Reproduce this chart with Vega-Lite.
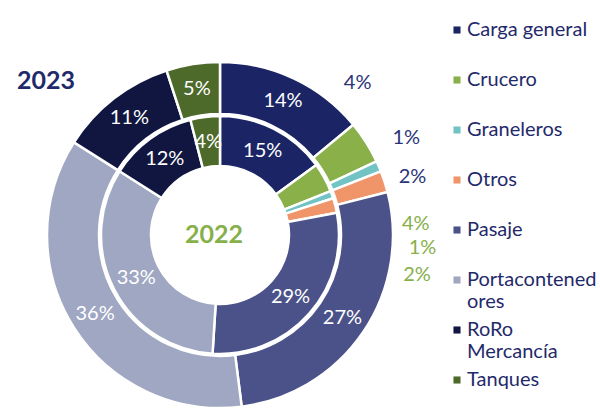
{
  "$schema": "https://vega.github.io/schema/vega-lite/v6.json",
  "width": 348,
  "height": 348,
  "autosize": {"type": "none"},
  "padding": {"left": 46, "top": 61, "right": 206, "bottom": 0},
  "background": "white",
  "config": {
    "view": {"stroke": null},
    "font": "Lato",
    "legend": {
      "orient": "none",
      "legendX": 401,
      "legendY": -41,
      "padding": 0,
      "gridAlign": "all",
      "symbolType": "square",
      "symbolSize": 50,
      "symbolStrokeWidth": 0,
      "labelFontSize": 20,
      "labelFont": "Lato",
      "labelColor": "#1f2a6b",
      "labelOffset": 0,
      "labelLimit": 200,
      "rowPadding": 8
    }
  },
  "data": {
    "values": [
      {"ring": "2023", "cat": "Carga general", "value": 0.14},
      {"ring": "2023", "cat": "Crucero", "value": 0.04},
      {"ring": "2023", "cat": "Graneleros", "value": 0.01},
      {"ring": "2023", "cat": "Otros", "value": 0.02},
      {"ring": "2023", "cat": "Pasaje", "value": 0.27},
      {"ring": "2023", "cat": "Portacontenedores", "value": 0.36},
      {"ring": "2023", "cat": "RoRo Mercancía", "value": 0.11},
      {"ring": "2023", "cat": "Tanques", "value": 0.05},
      {"ring": "2022", "cat": "Carga general", "value": 0.15},
      {"ring": "2022", "cat": "Crucero", "value": 0.04},
      {"ring": "2022", "cat": "Graneleros", "value": 0.01},
      {"ring": "2022", "cat": "Otros", "value": 0.02},
      {"ring": "2022", "cat": "Pasaje", "value": 0.29},
      {"ring": "2022", "cat": "Portacontenedores", "value": 0.33},
      {"ring": "2022", "cat": "RoRo Mercancía", "value": 0.12},
      {"ring": "2022", "cat": "Tanques", "value": 0.04}
    ]
  },
  "layer": [
    {
      "transform": [{"filter": "datum.ring == '2023'"}],
      "mark": {"type": "arc", "radius": 173, "radius2": 121, "stroke": "white", "strokeWidth": 2.5},
      "encoding": {
        "theta": {"field": "value", "type": "quantitative", "stack": true},
        "order": {"field": "cat", "type": "ordinal", "sort": "ascending"},
        "color": {
          "field": "cat",
          "type": "nominal",
          "scale": {
            "domain": ["Carga general", "Crucero", "Graneleros", "Otros", "Pasaje", "Portacontenedores", "RoRo Mercancía", "Tanques"],
            "range": ["#1b2566", "#8ab04a", "#72c4c4", "#f0956a", "#4a5289", "#9fa7c2", "#10163f", "#4d6a2b"]
          },
          "legend": {
            "title": null,
            "labelExpr": "datum.label == 'Portacontenedores' ? ['Portacontened', 'ores'] : datum.label == 'RoRo Mercancía' ? ['RoRo', 'Mercancía'] : datum.label"
          }
        }
      }
    },
    {
      "transform": [{"filter": "datum.ring == '2022'"}],
      "mark": {"type": "arc", "radius": 119, "radius2": 69, "stroke": "white", "strokeWidth": 2.5},
      "encoding": {
        "theta": {"field": "value", "type": "quantitative", "stack": true},
        "order": {"field": "cat", "type": "ordinal", "sort": "ascending"},
        "color": {"field": "cat", "type": "nominal"}
      }
    },
    {
      "transform": [{"filter": "datum.ring == '2023'"}],
      "mark": {"type": "text", "radius": 148, "fill": "white", "fontSize": 20, "align": "center", "baseline": "middle"},
      "encoding": {
        "theta": {"field": "value", "type": "quantitative", "stack": true},
        "order": {"field": "cat", "type": "ordinal", "sort": "ascending"},
        "detail": {"field": "cat", "type": "nominal"},
        "text": {"field": "value", "type": "quantitative", "format": ".0%"},
        "opacity": {"condition": {"test": "indexof(['Crucero','Graneleros','Otros'], datum.cat) >= 0", "value": 0}, "value": 1}
      }
    },
    {
      "transform": [{"filter": "datum.ring == '2022'"}],
      "mark": {"type": "text", "radius": 94, "fill": "white", "fontSize": 20, "align": "center", "baseline": "middle"},
      "encoding": {
        "theta": {"field": "value", "type": "quantitative", "stack": true},
        "order": {"field": "cat", "type": "ordinal", "sort": "ascending"},
        "detail": {"field": "cat", "type": "nominal"},
        "text": {"field": "value", "type": "quantitative", "format": ".0%"},
        "opacity": {"condition": {"test": "indexof(['Crucero','Graneleros','Otros'], datum.cat) >= 0", "value": 0}, "value": 1}
      }
    },
    {
      "transform": [{"filter": "datum.ring == '2023'"}],
      "mark": {"type": "text", "radius": 205, "thetaOffset": -0.269, "fill": "#2a3478", "fontSize": 20, "align": "center", "baseline": "middle"},
      "encoding": {
        "theta": {"field": "value", "type": "quantitative", "stack": true},
        "order": {"field": "cat", "type": "ordinal", "sort": "ascending"},
        "detail": {"field": "cat", "type": "nominal"},
        "text": {"field": "value", "type": "quantitative", "format": ".0%"},
        "opacity": {"condition": {"test": "datum.cat == 'Crucero'", "value": 1}, "value": 0}
      }
    },
    {
      "transform": [{"filter": "datum.ring == '2023'"}],
      "mark": {"type": "text", "radius": 210, "thetaOffset": -0.072, "fill": "#2a3478", "fontSize": 20, "align": "center", "baseline": "middle"},
      "encoding": {
        "theta": {"field": "value", "type": "quantitative", "stack": true},
        "order": {"field": "cat", "type": "ordinal", "sort": "ascending"},
        "detail": {"field": "cat", "type": "nominal"},
        "text": {"field": "value", "type": "quantitative", "format": ".0%"},
        "opacity": {"condition": {"test": "datum.cat == 'Graneleros'", "value": 1}, "value": 0}
      }
    },
    {
      "transform": [{"filter": "datum.ring == '2023'"}],
      "mark": {"type": "text", "radius": 201, "thetaOffset": 0.023, "fill": "#2a3478", "fontSize": 20, "align": "center", "baseline": "middle"},
      "encoding": {
        "theta": {"field": "value", "type": "quantitative", "stack": true},
        "order": {"field": "cat", "type": "ordinal", "sort": "ascending"},
        "detail": {"field": "cat", "type": "nominal"},
        "text": {"field": "value", "type": "quantitative", "format": ".0%"},
        "opacity": {"condition": {"test": "datum.cat == 'Otros'", "value": 1}, "value": 0}
      }
    },
    {
      "transform": [{"filter": "datum.ring == '2022'"}],
      "mark": {"type": "text", "radius": 196, "thetaOffset": 0.447, "fill": "#86b04a", "fontSize": 20, "align": "center", "baseline": "middle"},
      "encoding": {
        "theta": {"field": "value", "type": "quantitative", "stack": true},
        "order": {"field": "cat", "type": "ordinal", "sort": "ascending"},
        "detail": {"field": "cat", "type": "nominal"},
        "text": {"field": "value", "type": "quantitative", "format": ".0%"},
        "opacity": {"condition": {"test": "datum.cat == 'Crucero'", "value": 1}, "value": 0}
      }
    },
    {
      "transform": [{"filter": "datum.ring == '2022'"}],
      "mark": {"type": "text", "radius": 203, "thetaOffset": 0.41, "fill": "#86b04a", "fontSize": 20, "align": "center", "baseline": "middle"},
      "encoding": {
        "theta": {"field": "value", "type": "quantitative", "stack": true},
        "order": {"field": "cat", "type": "ordinal", "sort": "ascending"},
        "detail": {"field": "cat", "type": "nominal"},
        "text": {"field": "value", "type": "quantitative", "format": ".0%"},
        "opacity": {"condition": {"test": "datum.cat == 'Graneleros'", "value": 1}, "value": 0}
      }
    },
    {
      "transform": [{"filter": "datum.ring == '2022'"}],
      "mark": {"type": "text", "radius": 201, "thetaOffset": 0.452, "fill": "#86b04a", "fontSize": 20, "align": "center", "baseline": "middle"},
      "encoding": {
        "theta": {"field": "value", "type": "quantitative", "stack": true},
        "order": {"field": "cat", "type": "ordinal", "sort": "ascending"},
        "detail": {"field": "cat", "type": "nominal"},
        "text": {"field": "value", "type": "quantitative", "format": ".0%"},
        "opacity": {"condition": {"test": "datum.cat == 'Otros'", "value": 1}, "value": 0}
      }
    },
    {
      "data": {"values": [{"year": "2022"}]},
      "mark": {"type": "text", "fill": "#86b04a", "fontSize": 25, "fontWeight": "bold", "align": "center", "baseline": "middle", "dx": -6},
      "encoding": {"text": {"field": "year", "type": "nominal"}}
    },
    {
      "data": {"values": [{"year": "2023"}]},
      "mark": {"type": "text", "fill": "#1f2a6b", "fontSize": 25, "fontWeight": "bold", "align": "center", "baseline": "middle", "dx": -174, "dy": -154},
      "encoding": {"text": {"field": "year", "type": "nominal"}}
    }
  ]
}
